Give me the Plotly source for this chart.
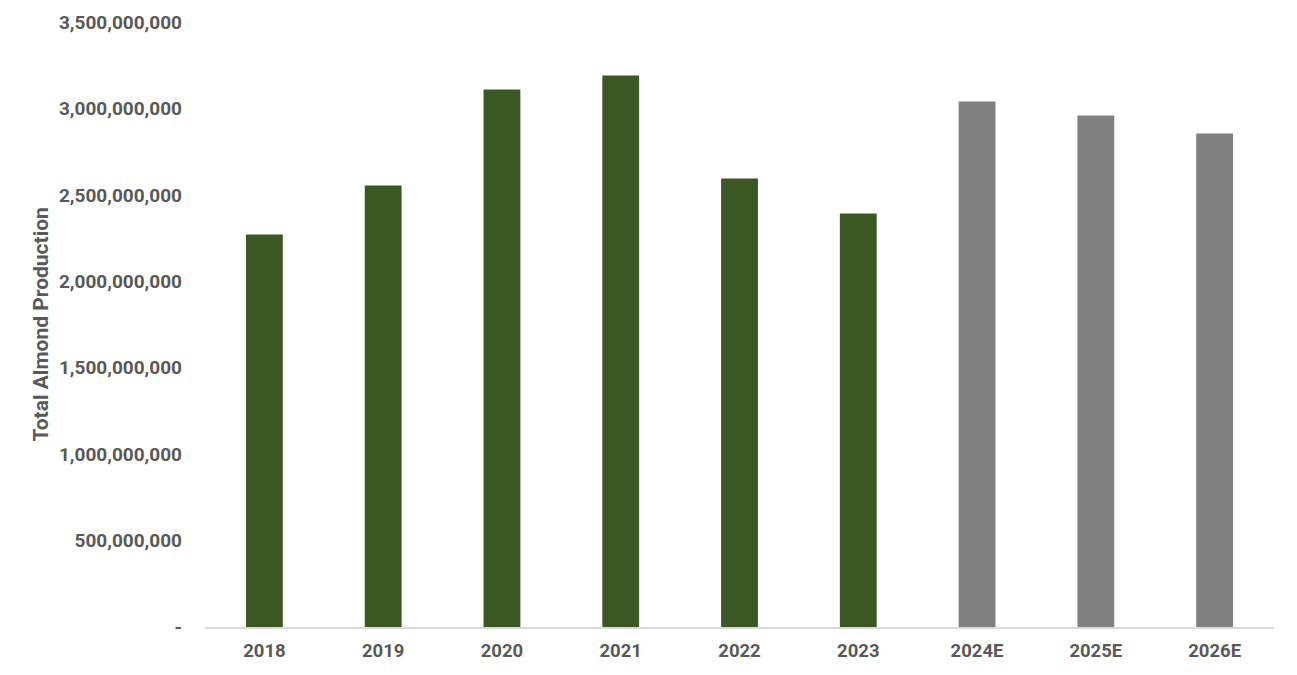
import plotly.graph_objects as go

years = ["2018", "2019", "2020", "2021", "2022", "2023", "2024E", "2025E", "2026E"]
production = [2270000000, 2554000000, 3110000000, 3191000000, 2594000000,
              2392000000, 3040000000, 2959000000, 2855000000]
estimate = [False, False, False, False, False, False, True, True, True]

tick_vals = [0, 500000000, 1000000000, 1500000000, 2000000000,
             2500000000, 3000000000, 3500000000]
tick_text = ["-" if v == 0 else f"{v:,}" for v in tick_vals]

GREEN = "#3b5723"
GREY = "#808080"
TEXT = "#595959"

fig = go.Figure()

fig.add_trace(
    go.Bar(
        x=years,
        y=production,
        marker={"color": [GREY if e else GREEN for e in estimate], "line": {"width": 0}},
        hoverinfo="x+y",
    )
)

fig.update_layout(
    width=1297,
    height=675,
    paper_bgcolor="white",
    plot_bgcolor="white",
    # page body adds 8px, so margins are shifted by that
    margin={"l": 197, "r": 31, "t": 14, "b": 56},
    bargap=0.69,
    showlegend=False,
    font={"family": "Roboto", "color": TEXT, "size": 18},
    xaxis={
        "showline": True,
        "linecolor": "#d9d9d9",
        "linewidth": 2,
        "showgrid": False,
        "ticks": "",
        "tickfont": {"family": "Roboto", "size": 18.5, "color": TEXT, "weight": "bold"},
        "ticklabelstandoff": 6,
    },
    yaxis={
        "range": [0, 3500000000],
        "tickvals": tick_vals,
        "ticktext": tick_text,
        "showgrid": False,
        "zeroline": False,
        "showline": False,
        "ticks": "",
        "tickfont": {"family": "Roboto", "size": 19, "color": TEXT, "weight": "bold"},
        "ticklabelstandoff": 22,
        "automargin": False,
    },
    annotations=[
        {
            "text": "<b>Total Almond Production</b>",
            "xref": "paper",
            "yref": "paper",
            "x": -165 / 1069,
            "y": 0.5,
            "xanchor": "center",
            "yanchor": "middle",
            "textangle": -90,
            "showarrow": False,
            "font": {"family": "Roboto", "size": 21, "color": TEXT},
        }
    ],
)

fig.write_html("out.html")
